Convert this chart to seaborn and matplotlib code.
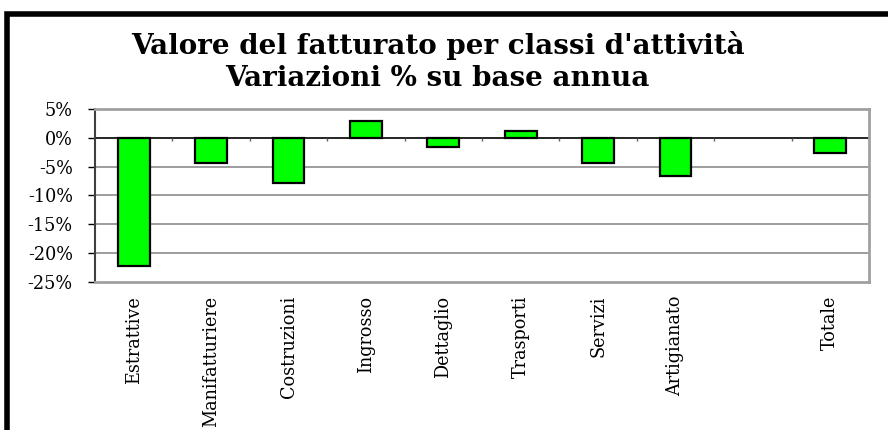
import numpy as np
import pandas as pd
import seaborn as sns
import matplotlib.pyplot as plt
from matplotlib.patches import Rectangle

# data (empty slot before "Totale")
categories = ["Estrattive", "Manifatturiere", "Costruzioni", "Ingrosso", "Dettaglio",
              "Trasporti", "Servizi", "Artigianato", "", "Totale"]
variazioni = [-22.3, -4.3, -7.8, 3.0, -1.6, 1.25, -4.3, -6.6, np.nan, -2.7]
y_ticks = [5, 0, -5, -10, -15, -20, -25]

bar_green = "#00FF00"
grid_grey = "#8C8C8C"

sns.set_theme(style="white")
plt.rcParams["font.family"] = ["DejaVu Serif"]
plt.rcParams["text.color"] = "black"

df = pd.DataFrame({"Classe": categories, "Var": variazioni})

fig = plt.figure(figsize=(8.88, 4.3), dpi=100)
ax = fig.add_axes([95 / 888, 1 - 282 / 430, (869 - 95) / 888, (282 - 109) / 430])

sns.barplot(data=df, x="Classe", y="Var", order=categories, color=bar_green,
            width=0.41, edgecolor="black", linewidth=1.6, saturation=1, ax=ax)

ax.set_ylim(-25, 5)
ax.set_xlim(-0.5, len(categories) - 0.5)
ax.set_yticks(y_ticks)
ax.set_yticklabels([f"{v}%" for v in y_ticks], fontsize=12.7, color="black")
for v in y_ticks:
    if v not in (0, 5, -25):
        ax.axhline(v, color=grid_grey, lw=1.2, zorder=0)
ax.axhline(0, color="black", lw=1.2, zorder=1)
# small tick marks on the zero line between categories
ax.vlines(np.arange(len(categories) - 1) + 0.5, -0.6, 0, color="#606060", lw=1)

ax.set_xticks(range(len(categories)))
ax.set_xticklabels(categories, rotation=90, fontsize=12.7, va="top", color="black")
ax.tick_params(axis="x", length=0, pad=10)
ax.yaxis.set_tick_params(which="major", length=5, width=1, color="black",
                         direction="out", pad=11, left=True)
ax.set_xlabel("")
ax.set_ylabel("")

for side in ["top", "right", "bottom"]:
    ax.spines[side].set_color("#A0A0A0")
    ax.spines[side].set_linewidth(2)
ax.spines["left"].set_color("#404040")
ax.spines["left"].set_linewidth(1.5)

fig.text(0.493, 1 - 45 / 430, "Valore del fatturato per classi d'attività",
         ha="center", va="center", fontsize=20, fontweight="bold")
fig.text(0.493, 1 - 78 / 430, "Variazioni % su base annua",
         ha="center", va="center", fontsize=20, fontweight="bold")

# outer chart frame, cut off at right and bottom like the reference
fig.patches.append(Rectangle((7 / 888, -0.1), 1.0, 1 - 14 / 430 + 0.1,
                             transform=fig.transFigure, fill=False,
                             edgecolor="black", linewidth=4, clip_on=False))

plt.savefig("out.png", dpi=100)
plt.close()
